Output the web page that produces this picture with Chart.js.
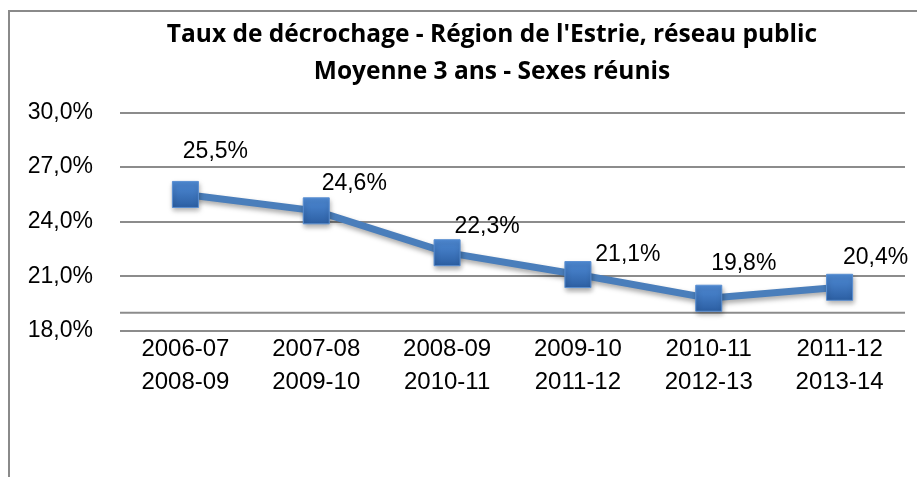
<!DOCTYPE html>
<html>
<head>
<meta charset="utf-8">
<script src="https://cdn.jsdelivr.net/npm/chart.js@4.4.1/dist/chart.umd.min.js"></script>
<style>
  html, body { margin: 0; padding: 0; background: #fff; overflow: hidden; }
  #frame {
    position: absolute; left: 8px; top: 10px;
    width: 964px; height: 480px;
    border: 2px solid #8a8a8a;
  }
  canvas { display: block; }
</style>
</head>
<body>
<div id="frame"><canvas id="myChart" width="964" height="480"></canvas></div>
<script>
const periodStart = ['2006-07', '2007-08', '2008-09', '2009-10', '2010-11', '2011-12'];
const periodEnd = ['2008-09', '2009-10', '2010-11', '2011-12', '2012-13', '2013-14'];
const dropoutRate = [25.5, 24.6, 22.3, 21.1, 19.8, 20.4];
const titleLines = ["Taux de décrochage - Région de l'Estrie, réseau public", 'Moyenne 3 ans - Sexes réunis'];

const labels = periodStart.map((s, i) => [s, periodEnd[i]]);
const pct = v => v.toFixed(1).replace('.', ',') + '%';

// square markers with a top-to-bottom blue gradient
function markerFill(c) {
    const chart = c.chart;
    if (!chart.scales.y || !c.parsed) return '#3d6fb3';
    const y = chart.scales.y.getPixelForValue(c.parsed.y);
    if (!isFinite(y)) return '#3d6fb3';
    const g = chart.ctx.createLinearGradient(0, y - 13, 0, y + 13);
    g.addColorStop(0, '#4f8bd6');
    g.addColorStop(1, '#2c5fa3');
    return g;
}

// drop shadow under the series, like the Excel markers
const shadowPlugin = {
    id: 'shadow',
    beforeDatasetDraw(chart) {
        const ctx = chart.ctx;
        ctx.save();
        ctx.shadowColor = 'rgba(0,0,0,0.35)';
        ctx.shadowBlur = 5;
        ctx.shadowOffsetX = 1;
        ctx.shadowOffsetY = 3;
    },
    afterDatasetDraw(chart) {
        chart.ctx.restore();
    }
};

// the stray horizontal rule just above the 18% line
const extraRule = {
    id: 'extraRule',
    beforeDatasetsDraw(chart, args, opts) {
        const {ctx, chartArea, scales} = chart;
        const y = scales.y.getPixelForValue(opts.value);
        ctx.save();
        ctx.strokeStyle = '#8c8c8c';
        ctx.lineWidth = 2;
        ctx.beginPath();
        ctx.moveTo(chartArea.left, y);
        ctx.lineTo(chartArea.right, y);
        ctx.stroke();
        ctx.restore();
    }
};

// value labels, placed up and to the right of each point
const valueLabels = {
    id: 'valueLabels',
    afterDatasetsDraw(chart, args, opts) {
        const ctx = chart.ctx;
        const meta = chart.getDatasetMeta(0);
        ctx.save();
        ctx.font = opts.font;
        ctx.fillStyle = '#000';
        ctx.textAlign = 'center';
        ctx.textBaseline = 'middle';
        meta.data.forEach((pt, i) => {
            const off = opts.offsets[i];
            ctx.fillText(pct(dropoutRate[i]), pt.x + off[0], pt.y + off[1]);
        });
        ctx.restore();
    }
};

const ctx = document.getElementById('myChart').getContext('2d');
const myChart = new Chart(ctx, {
    type: 'line',
    data: {
        labels: labels,
        datasets: [{
            data: dropoutRate,
            borderColor: '#4a7ebb',
            borderWidth: 7,
            tension: 0,
            pointStyle: 'rect',
            pointRadius: 18.4,
            pointHoverRadius: 18.4,
            pointBackgroundColor: markerFill,
            pointBorderColor: '#5a8fd2',
            pointBorderWidth: 1
        }]
    },
    plugins: [shadowPlugin, extraRule, valueLabels],
    options: {
        responsive: false,
        animation: false,
        devicePixelRatio: 1,
        layout: { padding: { top: 5, right: 0, left: 0, bottom: 0 } },
        plugins: {
            legend: { display: false },
            tooltip: { enabled: false },
            title: {
                display: true,
                text: titleLines,
                color: '#000',
                font: { family: 'Open Sans', size: 24.5, weight: 'bold', lineHeight: 1.5 },
                padding: { top: 0, bottom: 22 }
            },
            extraRule: { value: 19 },
            valueLabels: {
                font: '23px "Liberation Sans"',
                offsets: [[30, -43], [38, -27], [40, -26], [50, -20], [35, -35], [36, -30]]
            }
        },
        scales: {
            x: {
                offset: true,
                grid: { display: false, drawTicks: false },
                border: { display: false },
                ticks: {
                    color: '#000',
                    padding: 2,
                    maxRotation: 0,
                    font: { family: 'Liberation Sans', size: 24, lineHeight: 1.375 }
                },
                afterFit(scale) { scale.height = 480 - 319; }
            },
            y: {
                min: 18,
                max: 30,
                grid: { color: '#8c8c8c', lineWidth: 2, drawTicks: false },
                border: { display: false },
                ticks: {
                    stepSize: 3,
                    color: '#000',
                    padding: 27,
                    font: { family: 'Liberation Sans', size: 23 },
                    callback: v => pct(v)
                },
                afterFit(scale) { scale.width = 110; }
            },
            // empty right-hand strip so the title stays centred on the whole frame
            yRight: {
                position: 'right',
                grid: { display: false, drawTicks: false },
                border: { display: false },
                ticks: { display: false },
                afterFit(scale) { scale.width = 69; }
            }
        }
    }
});
</script>
</body>
</html>
